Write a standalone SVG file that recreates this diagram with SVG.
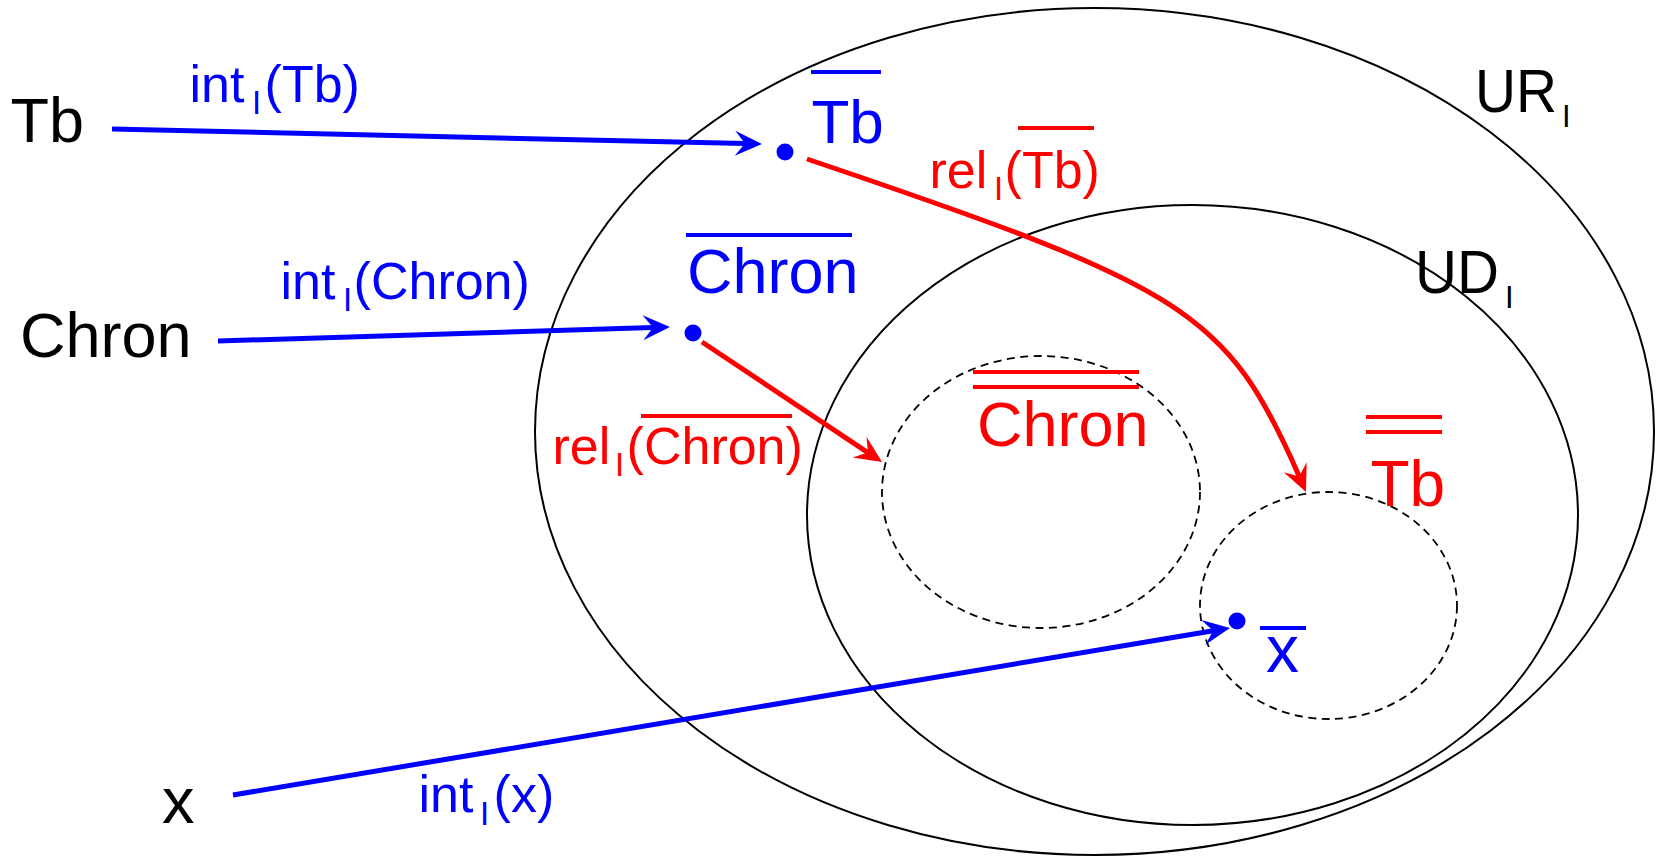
<svg xmlns="http://www.w3.org/2000/svg" width="1656" height="857" viewBox="0 0 1656 857">
<style>
text{font-family:"Liberation Sans",Arial,sans-serif}
.k{fill:#000}
.b{fill:#0000ff}
.r{fill:#ff0000}
.set{fill:none;stroke:#000;stroke-width:2}
.sub{fill:none;stroke:#000;stroke-width:1.8;stroke-dasharray:8 5.5}
.cb{fill:none;stroke:#0000ff;stroke-width:5}
.cr{fill:none;stroke:#ff0000;stroke-width:5}
.ob{stroke:#0000ff;stroke-width:4}
.or{stroke:#ff0000;stroke-width:4}
</style>
<defs>
<marker id="ab" markerUnits="userSpaceOnUse" viewBox="-28 -14 30 28" markerWidth="30" markerHeight="28" refX="-17" refY="0" orient="auto"><path d="M0,0 L-27,-12.5 L-17,0 L-27,12.5 Z" fill="#0000ff"/></marker>
<marker id="ar" markerUnits="userSpaceOnUse" viewBox="-28 -14 30 28" markerWidth="30" markerHeight="28" refX="-17" refY="0" orient="auto"><path d="M0,0 L-27,-12.5 L-17,0 L-27,12.5 Z" fill="#ff0000"/></marker>
</defs>

<g id="UR">
<ellipse class="set" cx="1094.5" cy="431.5" rx="559.5" ry="423.5"/>
<text class="k" x="1475" y="112" font-size="62" textLength="82" lengthAdjust="spacingAndGlyphs">UR</text>
<text class="k" x="1562" y="127" font-size="31">I</text>
</g>
<g id="UD">
<ellipse class="set" cx="1192.5" cy="515" rx="385.5" ry="310"/>
<text class="k" x="1415" y="293" font-size="62" textLength="84" lengthAdjust="spacingAndGlyphs">UD</text>
<text class="k" x="1505" y="308" font-size="31">I</text>
</g>
<g id="relChron">
<ellipse class="sub" cx="1041" cy="492" rx="159" ry="136"/>
<line class="or" x1="973" y1="372" x2="1139" y2="372"/>
<line class="or" x1="973" y1="387" x2="1139" y2="387"/>
<text class="r" x="977" y="446" font-size="63">Chron</text>
</g>
<g id="relTb">
<ellipse class="sub" cx="1328.5" cy="605.5" rx="128.5" ry="113.5"/>
<line class="or" x1="1366" y1="417" x2="1442" y2="417"/>
<line class="or" x1="1366" y1="432" x2="1442" y2="432"/>
<text class="r" x="1370.5" y="506" font-size="64">Tb</text>
</g>

<g id="Tb"><text class="k" x="10.5" y="142" font-size="63">Tb</text></g>
<g id="Chron"><text class="k" x="20" y="357" font-size="63">Chron</text></g>
<g id="x"><text class="k" x="162" y="823" font-size="65">x</text></g>

<g id="intTb">
<circle class="b" cx="785" cy="152" r="8.5"/>
<line class="ob" x1="811" y1="72" x2="881" y2="72"/>
<text class="b" x="811.5" y="143" font-size="62">Tb</text>
</g>
<g id="intChron">
<circle class="b" cx="693" cy="333" r="8.5"/>
<line class="ob" x1="686" y1="235" x2="852" y2="235"/>
<text class="b" x="687" y="293" font-size="63">Chron</text>
</g>
<g id="intx">
<circle class="b" cx="1237" cy="621" r="8.5"/>
<line class="ob" x1="1260" y1="628" x2="1306" y2="628"/>
<text class="b" x="1266" y="672" font-size="66">x</text>
</g>

<g id="connectors">
<line class="cb" x1="112" y1="129" x2="745" y2="143.6" marker-end="url(#ab)"/>
<line class="cb" x1="218" y1="341" x2="653" y2="327.5" marker-end="url(#ab)"/>
<line class="cb" x1="233" y1="795" x2="1213.2" y2="630.8" marker-end="url(#ab)"/>
<line class="cr" x1="702" y1="342" x2="867.9" y2="452.6" marker-end="url(#ar)"/>
<path class="cr" d="M807,159 C1186,287 1227,311 1299.2,476.4" marker-end="url(#ar)"/>
</g>

<g id="labels">
<g id="lab-intTb">
<text class="b" x="189.5" y="102" font-size="52">int</text>
<text class="b" x="252" y="114" font-size="33">I</text>
<text class="b" x="264.6" y="102" font-size="52">(Tb)</text>
</g>
<g id="lab-intChron">
<text class="b" x="280.5" y="299" font-size="52">int</text>
<text class="b" x="343" y="311" font-size="33">I</text>
<text class="b" x="353.6" y="299" font-size="52">(Chron)</text>
</g>
<g id="lab-intx">
<text class="b" x="418.5" y="812" font-size="52">int</text>
<text class="b" x="480" y="825" font-size="33">I</text>
<text class="b" x="493.6" y="812" font-size="52">(x)</text>
</g>
<g id="lab-relTb">
<text class="r" x="929.5" y="188" font-size="52">rel</text>
<text class="r" x="994" y="200" font-size="33">I</text>
<text class="r" x="1004.6" y="188" font-size="52">(Tb)</text>
<line class="or" x1="1018" y1="128" x2="1094" y2="128"/>
</g>
<g id="lab-relChron">
<text class="r" x="552.5" y="464" font-size="52">rel</text>
<text class="r" x="615" y="476" font-size="33">I</text>
<text class="r" x="626.6" y="464" font-size="52">(Chron)</text>
<line class="or" x1="641" y1="416" x2="792" y2="416"/>
</g>
</g>
</svg>
